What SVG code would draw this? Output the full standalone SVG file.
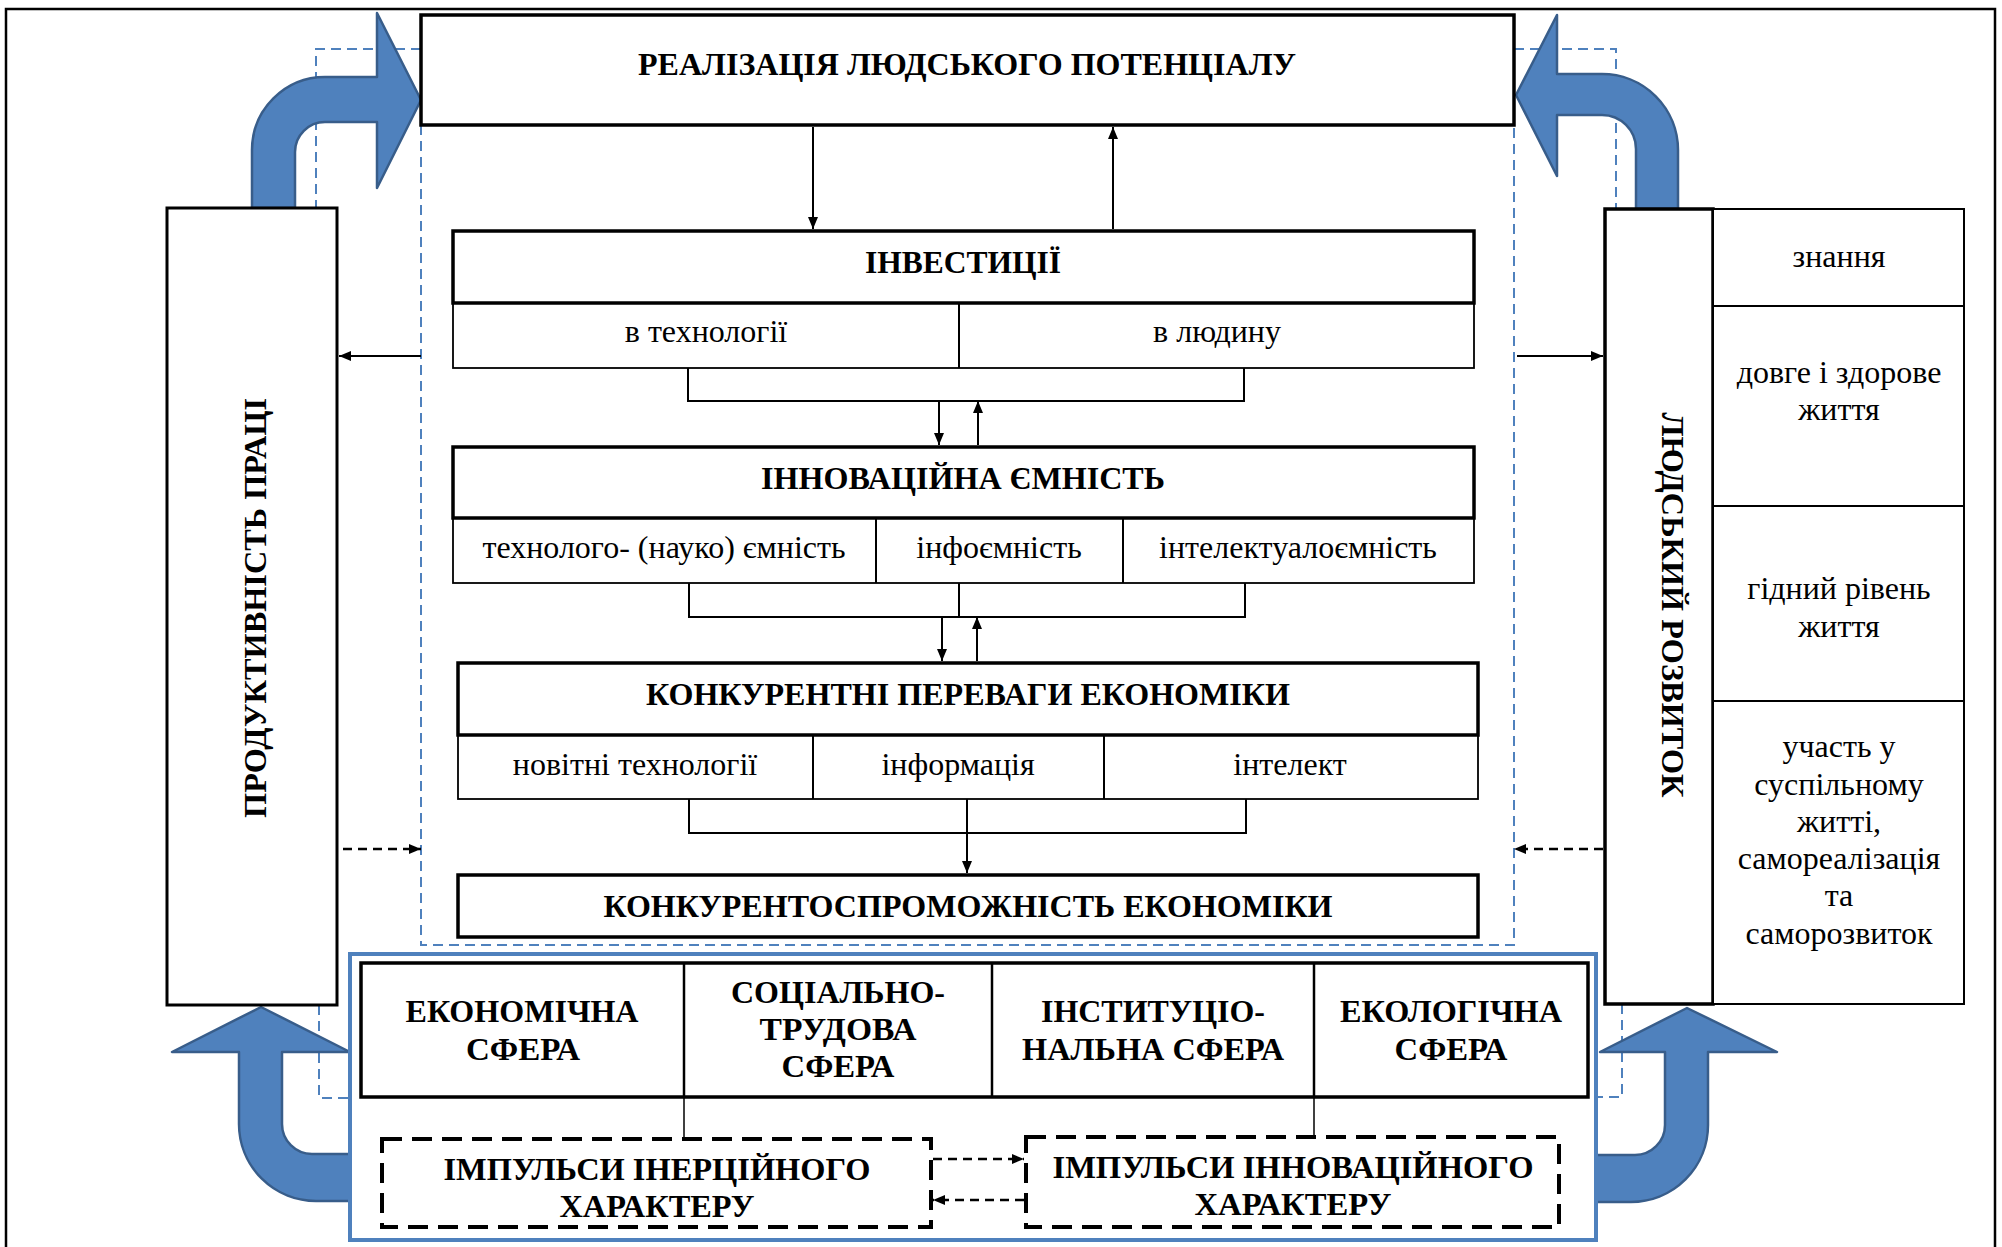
<svg xmlns="http://www.w3.org/2000/svg" width="2002" height="1247" viewBox="0 0 2002 1247">
<style>
.t{font-family:'Liberation Serif','Times New Roman',serif;font-size:32px;fill:#000;text-anchor:middle}
.b{font-weight:bold}
.s31{font-size:31px}
.box{fill:#fff;stroke:#000;stroke-width:3.5}
.sub{fill:#fff;stroke:#000;stroke-width:1.8}
.ln{stroke:#000;stroke-width:2;fill:none}
.dl{stroke:#000;stroke-width:2.5;fill:none;stroke-dasharray:9 6}
.bd{stroke:#4f81bd;stroke-width:2;stroke-dasharray:10 6;fill:none}
.barrow{fill:#4f81bd;stroke:#385d8a;stroke-width:2.5;stroke-linejoin:round}
.imp{fill:#fff;stroke:#000;stroke-width:4;stroke-dasharray:20 10}
</style>
<defs>
<marker id="ah" viewBox="0 0 12 10" refX="12" refY="5" markerWidth="12" markerHeight="10" markerUnits="userSpaceOnUse" orient="auto">
<path d="M0,0 L12,5 L0,10 Z" fill="#000"/>
</marker>
</defs>
<rect width="2002" height="1247" fill="#fff"/>
<path d="M6,1250 V9 H1995 V1250" fill="none" stroke="#000" stroke-width="2.5"/>

<g id="dashed-frames">
<path class="bd" d="M421,49 H316 V208"/>
<path class="bd" d="M1514,49 H1616 V209"/>
<path class="bd" d="M319,1005 V1098 H352"/>
<path class="bd" d="M1622,1004 V1097 H1596"/>
<path class="bd" d="M421,125 V945 H1514 V125"/>
</g>

<g id="blue-arrows">
<path class="barrow" d="M252,208 V150 A73,73 0 0 1 325,77 H377 V13 L421,100 L377,188 V122 H325 A30,30 0 0 0 295,152 V208 Z"/>
<path class="barrow" d="M1678,209 V150 A76,76 0 0 0 1602,74 H1557 V15 L1516,95 L1557,176 V115 H1602 A34,34 0 0 1 1636,149 V209 Z"/>
<path class="barrow" d="M352,1154 H312 A30,30 0 0 1 282,1124 V1052 H350 L261,1007 L172,1052 H239 V1124 A77,77 0 0 0 316,1201 H352 Z"/>
<path class="barrow" d="M1596,1155 H1635 A30,30 0 0 0 1665,1125 V1052 H1600 L1687,1008 L1777,1052 H1708 V1125 A77,77 0 0 1 1631,1202 H1596 Z"/>
</g>

<g id="node-realizatsiia">
<rect class="box" x="421" y="15" width="1093" height="110"/>
<text class="t b" x="967" y="75" textLength="658" lengthAdjust="spacingAndGlyphs">РЕАЛІЗАЦІЯ ЛЮДСЬКОГО ПОТЕНЦІАЛУ</text>
</g>

<g id="node-investytsii">
<rect class="sub" x="453" y="303" width="1021" height="65"/>
<line class="ln" x1="959" y1="303" x2="959" y2="368"/>
<rect class="box" x="453" y="231" width="1021" height="72"/>
<text class="t b" x="963" y="273" textLength="196" lengthAdjust="spacingAndGlyphs">ІНВЕСТИЦІЇ</text>
<text class="t" x="706" y="342">в технології</text>
<text class="t" x="1217" y="342">в людину</text>
</g>

<g id="node-innovatsiina">
<rect class="sub" x="453" y="518" width="1021" height="65"/>
<line class="ln" x1="876" y1="518" x2="876" y2="583"/>
<line class="ln" x1="1123" y1="518" x2="1123" y2="583"/>
<rect class="box" x="453" y="447" width="1021" height="71"/>
<text class="t b" x="963" y="489" textLength="404" lengthAdjust="spacingAndGlyphs">ІННОВАЦІЙНА ЄМНІСТЬ</text>
<text class="t" x="664" y="558">технолого- (науко) ємність</text>
<text class="t" x="999" y="558">інфоємність</text>
<text class="t" x="1298" y="558">інтелектуалоємність</text>
</g>

<g id="node-perevahy">
<rect class="sub" x="458" y="735" width="1020" height="64"/>
<line class="ln" x1="813" y1="735" x2="813" y2="799"/>
<line class="ln" x1="1104" y1="735" x2="1104" y2="799"/>
<rect class="box" x="458" y="663" width="1020" height="72"/>
<text class="t b" x="968" y="705" textLength="644" lengthAdjust="spacingAndGlyphs">КОНКУРЕНТНІ ПЕРЕВАГИ ЕКОНОМІКИ</text>
<text class="t" x="635" y="775">новітні технології</text>
<text class="t" x="958" y="775">інформація</text>
<text class="t" x="1290" y="775">інтелект</text>
</g>

<g id="node-konkurentospromozhnist">
<rect class="box" x="458" y="875" width="1020" height="62"/>
<text class="t b" x="968" y="917" textLength="729" lengthAdjust="spacingAndGlyphs">КОНКУРЕНТОСПРОМОЖНІСТЬ ЕКОНОМІКИ</text>
</g>

<g id="node-produktyvnist">
<rect fill="#fff" stroke="#000" stroke-width="3" x="167" y="208" width="170" height="797"/>
<text class="t b" transform="translate(266,608) rotate(-90)" x="0" y="0" textLength="420" lengthAdjust="spacingAndGlyphs">ПРОДУКТИВНІСТЬ ПРАЦІ</text>
</g>

<g id="node-liudskyi-rozvytok">
<rect class="box" x="1605" y="209" width="108" height="795"/>
<text class="t b" transform="translate(1662,605) rotate(90)" x="0" y="0" textLength="385" lengthAdjust="spacingAndGlyphs">ЛЮДСЬКИЙ РОЗВИТОК</text>
</g>

<g id="node-components">
<rect fill="#fff" stroke="#000" stroke-width="2" x="1713" y="209" width="251" height="795"/>
<line class="ln" x1="1713" y1="306" x2="1964" y2="306"/>
<line class="ln" x1="1713" y1="506" x2="1964" y2="506"/>
<line class="ln" x1="1713" y1="701" x2="1964" y2="701"/>
<text class="t" x="1839" y="267">знання</text>
<text class="t" x="1839" y="383">довге і здорове</text>
<text class="t" x="1839" y="420">життя</text>
<text class="t" x="1839" y="599">гідний рівень</text>
<text class="t" x="1839" y="637">життя</text>
<text class="t" x="1839" y="757">участь у</text>
<text class="t" x="1839" y="795">суспільному</text>
<text class="t" x="1839" y="832">житті,</text>
<text class="t" x="1839" y="869">самореалізація</text>
<text class="t" x="1839" y="906">та</text>
<text class="t" x="1839" y="944">саморозвиток</text>
</g>

<g id="node-spheres">
<rect fill="#fff" stroke="#4f81bd" stroke-width="4" x="350" y="954" width="1246" height="286"/>
<rect class="box" x="361" y="963" width="1227" height="134"/>
<line stroke="#000" stroke-width="2.5" x1="684" y1="963" x2="684" y2="1097"/>
<line stroke="#000" stroke-width="2.5" x1="992" y1="963" x2="992" y2="1097"/>
<line stroke="#000" stroke-width="2.5" x1="1314" y1="963" x2="1314" y2="1097"/>
<text class="t b s31" x="522" y="1022" textLength="233" lengthAdjust="spacingAndGlyphs">ЕКОНОМІЧНА</text>
<text class="t b s31" x="523" y="1060" textLength="114" lengthAdjust="spacingAndGlyphs">СФЕРА</text>
<text class="t b s31" x="838" y="1003" textLength="214" lengthAdjust="spacingAndGlyphs">СОЦІАЛЬНО-</text>
<text class="t b s31" x="838" y="1040" textLength="157" lengthAdjust="spacingAndGlyphs">ТРУДОВА</text>
<text class="t b s31" x="838" y="1077" textLength="113" lengthAdjust="spacingAndGlyphs">СФЕРА</text>
<text class="t b s31" x="1153" y="1022" textLength="224" lengthAdjust="spacingAndGlyphs">ІНСТИТУЦІО-</text>
<text class="t b s31" x="1153" y="1060" textLength="262" lengthAdjust="spacingAndGlyphs">НАЛЬНА СФЕРА</text>
<text class="t b s31" x="1451" y="1022" textLength="222" lengthAdjust="spacingAndGlyphs">ЕКОЛОГІЧНА</text>
<text class="t b s31" x="1451" y="1060" textLength="113" lengthAdjust="spacingAndGlyphs">СФЕРА</text>
</g>

<g id="node-impulsy-inertsiinoho">
<rect class="imp" x="382" y="1139" width="549" height="88"/>
<text class="t b s31" x="657" y="1180" textLength="427" lengthAdjust="spacingAndGlyphs">ІМПУЛЬСИ ІНЕРЦІЙНОГО</text>
<text class="t b s31" x="657" y="1217" textLength="195" lengthAdjust="spacingAndGlyphs">ХАРАКТЕРУ</text>
</g>

<g id="node-impulsy-innovatsiinoho">
<rect class="imp" x="1026" y="1137" width="533" height="90"/>
<text class="t b s31" x="1293" y="1178" textLength="481" lengthAdjust="spacingAndGlyphs">ІМПУЛЬСИ ІННОВАЦІЙНОГО</text>
<text class="t b s31" x="1293" y="1215" textLength="197" lengthAdjust="spacingAndGlyphs">ХАРАКТЕРУ</text>
</g>

<g id="connectors">
<line class="ln" x1="813" y1="127" x2="813" y2="229" marker-end="url(#ah)"/>
<line class="ln" x1="1113" y1="229" x2="1113" y2="127" marker-end="url(#ah)"/>
<path class="ln" d="M688,368 V401 H1244 V368"/>
<line class="ln" x1="939" y1="401" x2="939" y2="445" marker-end="url(#ah)"/>
<line class="ln" x1="978" y1="445" x2="978" y2="401" marker-end="url(#ah)"/>
<path class="ln" d="M689,583 V617 H1245 V583"/>
<line class="ln" x1="959" y1="583" x2="959" y2="617"/>
<line class="ln" x1="942" y1="617" x2="942" y2="661" marker-end="url(#ah)"/>
<line class="ln" x1="977" y1="661" x2="977" y2="617" marker-end="url(#ah)"/>
<path class="ln" d="M689,799 V833 H1246 V799"/>
<line class="ln" x1="967" y1="799" x2="967" y2="873" marker-end="url(#ah)"/>
<line class="ln" x1="421" y1="356" x2="339" y2="356" marker-end="url(#ah)"/>
<line class="ln" x1="1517" y1="356" x2="1603" y2="356" marker-end="url(#ah)"/>
<line class="dl" x1="343" y1="849" x2="421" y2="849" marker-end="url(#ah)"/>
<line class="dl" x1="1603" y1="849" x2="1514" y2="849" marker-end="url(#ah)"/>
<line stroke="#000" stroke-width="1.5" x1="684" y1="1097" x2="684" y2="1139"/>
<line stroke="#000" stroke-width="1.5" x1="1314" y1="1097" x2="1314" y2="1137"/>
<line class="dl" x1="933" y1="1159" x2="1024" y2="1159" marker-end="url(#ah)"/>
<line class="dl" x1="1024" y1="1200" x2="933" y2="1200" marker-end="url(#ah)"/>
</g>
</svg>
